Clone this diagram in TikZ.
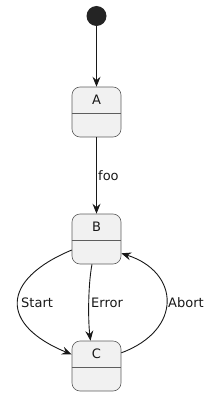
\documentclass[tikz,border=0pt]{standalone}
\usepackage{fontspec}
\setmainfont{DejaVu Sans}
\usetikzlibrary{arrows.meta,calc,positioning}
\definecolor{boxfill}{HTML}{F1F1F1}
\definecolor{ink}{HTML}{181818}

\begin{document}
\begin{tikzpicture}[x=1pt,y=-1pt,
    state/.style={draw=ink!70, line width=0.6pt, fill=boxfill, rounded corners=8pt,
      minimum width=49pt, minimum height=50pt, inner sep=0pt},
    edge/.style={draw=ink, line width=0.9pt, -{Stealth[length=10pt,width=8pt,inset=3.5pt]}},
    lbl/.style={font=\fontsize{13}{15}\selectfont, text=ink, inner sep=1pt}]
  \useasboundingbox (0,0) rectangle (210,396);
  % states with a name row and an empty row
  \def\cx{96.5}
  \node[circle, fill=ink!95, minimum size=20pt, inner sep=0pt] (init) at (\cx,16) {};
  \foreach \s/\y in {A/112,B/239,C/366}{
    \node[state] (\s) at (\cx,\y) {};
    \draw[ink!70, line width=0.6pt] ($(\s.west)+(0,1)$) -- ($(\s.east)+(0,1)$);
    \node[lbl] (name\s) at (\cx,\y-12) {\s};
  }
  % transitions
  \draw[edge] (init) -- (A);
  \draw[edge] (A) -- (B);
  \node[lbl, anchor=west] (foo) at (97,176) {foo};
  \draw[edge] (B.204) .. controls (0,280) and (0,325) .. (C.155);
  \node[lbl, anchor=west] (start) at (20,303) {Start};
  \draw[edge] ([xshift=-4.5pt]B.south) .. controls (88,285) and (88,320) .. ([xshift=-6pt]C.north);
  \node[lbl, anchor=west] (error) at (90,303) {Error};
  \draw[edge] (C.28) .. controls (183,330) and (180,272) .. (B.330);
  \node[lbl, anchor=west] (abort) at (167,303) {Abort};
\end{tikzpicture}
\end{document}
